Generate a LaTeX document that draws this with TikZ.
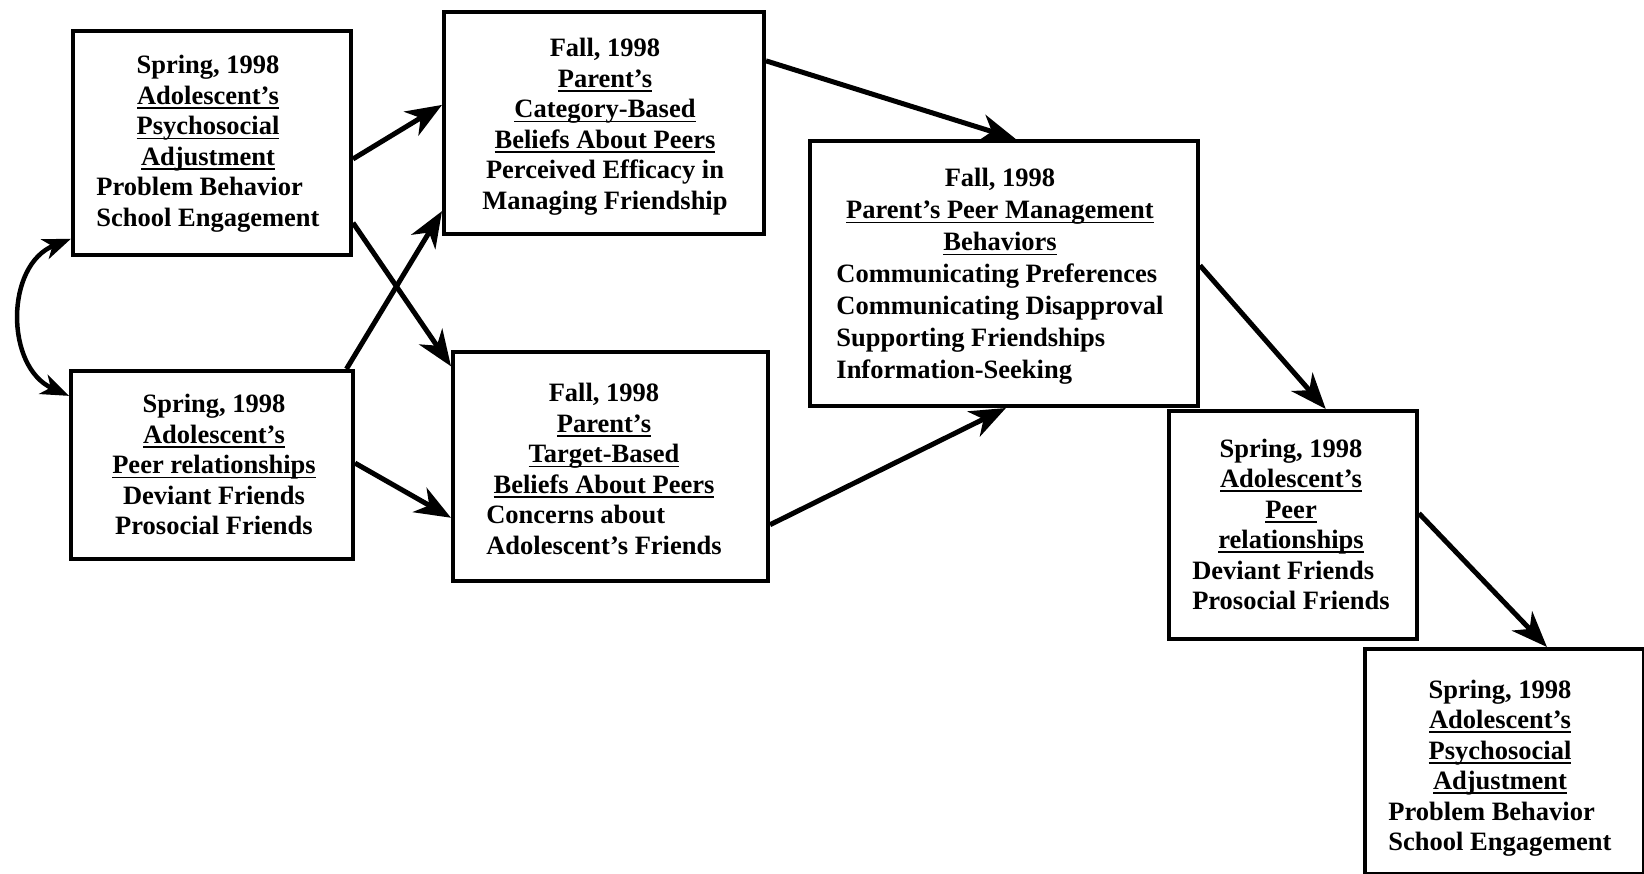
\documentclass[tikz,border=0pt]{standalone}
\usepackage{fontspec}
\setmainfont{Liberation Serif}
\usetikzlibrary{arrows.meta,calc}
\newcommand{\hd}[1]{\multicolumn{1}{@{}c@{}}{#1}}
\newcommand{\ul}[1]{\setbox0\hbox{#1}\rlap{\rule[-4.5pt]{\wd0}{1.8pt}}\box0}
\tikzset{
  box/.style={draw, line width=4pt, anchor=north west, inner sep=0pt},
  lbl/.style={anchor=base, inner sep=0pt, font=\fontsize{26.5}{30.5}\selectfont\bfseries},
  lblwide/.style={anchor=base, inner sep=0pt, font=\fontsize{26.5}{32}\selectfont\bfseries},
  arr/.style={line width=5pt, -{Stealth[length=36pt,width=28pt,inset=11pt]}},
  darr/.style={line width=4.5pt, {Stealth[length=28pt,width=21pt,inset=8pt]}-{Stealth[length=28pt,width=21pt,inset=8pt]}},
}
\begin{document}
\begin{tikzpicture}[x=1pt,y=-1pt]
\useasboundingbox (0,0) rectangle (1644,874);
% boxes
\node[box, minimum width=278pt, minimum height=224pt] (A) at (71,29) {};
\node[box, minimum width=282pt, minimum height=188pt] (B) at (69,369) {};
\node[box, minimum width=320pt, minimum height=222pt] (C) at (442,10) {};
\node[box, minimum width=315pt, minimum height=229pt] (D) at (451,350) {};
\node[box, minimum width=388pt, minimum height=265pt] (E) at (808,139) {};
\node[box, minimum width=248pt, minimum height=228pt] (F) at (1167,409) {};
\node[box, minimum width=279pt, minimum height=225pt] (G) at (1363,647) {};
% texts
\node[lbl] (tA) at (208,74) {\begin{tabular}[t]{@{}l@{}}
\hd{Spring, 1998}\\ \hd{\ul{Adolescent’s}}\\ \hd{\ul{Psychosocial}}\\ \hd{\ul{Adjustment}}\\
Problem Behavior\\ School Engagement\end{tabular}};
\node[lbl] (tB) at (214,413) {\begin{tabular}[t]{@{}c@{}}
Spring, 1998\\ \ul{Adolescent’s}\\ \ul{Peer relationships}\\ Deviant Friends\\ Prosocial Friends\end{tabular}};
\node[lbl] (tC) at (605,57) {\begin{tabular}[t]{@{}c@{}}
Fall, 1998\\ \ul{Parent’s}\\ \ul{Category-Based}\\ \ul{Beliefs About Peers}\\ Perceived Efficacy in\\ Managing Friendship\end{tabular}};
\node[lbl] (tD) at (604,402) {\begin{tabular}[t]{@{}l@{}}
\hd{Fall, 1998}\\ \hd{\ul{Parent’s}}\\ \hd{\ul{Target-Based}}\\ \hd{\ul{Beliefs About Peers}}\\ Concerns about\\ Adolescent’s Friends\end{tabular}};
\node[lblwide] (tE) at (1000,187) {\begin{tabular}[t]{@{}l@{}}
\hd{Fall, 1998}\\ \hd{\ul{Parent’s Peer Management}}\\ \hd{\ul{Behaviors}}\\ Communicating Preferences\\ Communicating Disapproval\\ Supporting Friendships\\ Information-Seeking\end{tabular}};
\node[lbl] (tF) at (1291,457) {\begin{tabular}[t]{@{}l@{}}
\hd{Spring, 1998}\\ \hd{\ul{Adolescent’s}}\\ \hd{\ul{Peer}}\\ \hd{\ul{relationships}}\\ Deviant Friends\\ Prosocial Friends\end{tabular}};
\node[lbl] (tG) at (1500,698) {\begin{tabular}[t]{@{}l@{}}
\hd{Spring, 1998}\\ \hd{\ul{Adolescent’s}}\\ \hd{\ul{Psychosocial}}\\ \hd{\ul{Adjustment}}\\
Problem Behavior\\ School Engagement\end{tabular}};
% connectors
\draw[arr] ($(A.north east)!0.57!(A.south east)$) -- ($(C.north west)!0.42!(C.south west)$);
\draw[arr] ($(A.north east)!0.85!(A.south east)$) -- ($(D.north west)!0.07!(D.south west)$);
\draw[arr] ($(B.north west)!0.97!(B.north east)$) -- ($(C.north west)!0.89!(C.south west)$);
\draw[arr] ($(B.north east)!0.49!(B.south east)$) -- ($(D.north west)!0.72!(D.south west)$);
\draw[arr] ($(C.north east)!0.225!(C.south east)$) -- ($(E.north west)!0.53!(E.north east)$);
\draw[arr] ($(D.north east)!0.75!(D.south east)$) -- ($(E.south west)!0.505!(E.south east)$);
\draw[arr] ($(E.north east)!0.47!(E.south east)$) -- ($(F.north west)!0.63!(F.north east)$);
\draw[arr] ($(F.north east)!0.45!(F.south east)$) -- ($(G.north west)!0.65!(G.north east)$);
\draw[darr] ($(A.north west)!0.92!(A.south west)$) .. controls (5,265) and (5,367) .. ($(B.north west)!0.14!(B.south west)$);
\end{tikzpicture}
\end{document}
